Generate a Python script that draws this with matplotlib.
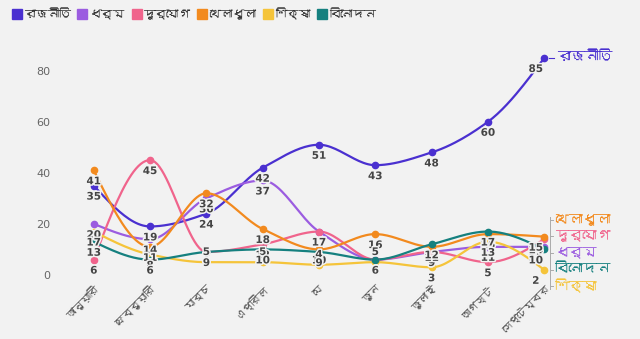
import numpy as np
import matplotlib
matplotlib.use('Agg')
import matplotlib.pyplot as plt
import matplotlib.patheffects as pe
from matplotlib import font_manager
from matplotlib.ft2font import FT2Font

# monthly counts per topic
months = ['জানুয়ারি', 'ফেব্রুয়ারি', 'মার্চ', 'এপ্রিল', 'মে', 'জুন', 'জুলাই', 'আগস্ট', 'সেপ্টেম্বর']
topic_names = ['রাজনীতি', 'ধর্ম', 'দুর্যোগ', 'খেলাধুলা', 'শিক্ষা', 'বিনোদন']
politics = [35, 19, 24, 42, 51, 43, 48, 60, 85]
religion = [20, 14, 30, 37, 17, 6, 9, 11, 11]
disaster = [6, 45, 9, 12, 17, 6, 9, 5, 14]
sports = [41, 11, 32, 18, 10, 16, 11, 16, 15]
education = [17, 8, 5, 5, 4, 5, 3, 13, 2]
entertainment = [13, 6, 9, 10, 9, 6, 12, 17, 10]

series = [politics, religion, disaster, sports, education, entertainment]
colors = ['#4a30d0', '#9b5ce0', '#f0648c', '#f28a1e', '#f5c43a', '#15807f']
BG = '#f2f2f2'

# (series index, month index) whose value label sits above the point
labels_above = {(4, 2), (4, 3), (4, 4), (4, 5)}


def find_bengali_font():
    # first installed family that has Bengali glyphs
    for entry in font_manager.fontManager.ttflist:
        try:
            if 0x09B0 in FT2Font(entry.fname).get_charmap():
                return entry.name
        except Exception:
            continue
    return None


bengali = find_bengali_font()
families = ([bengali] if bengali else []) + ['DejaVu Sans']
plt.rcParams['font.family'] = families


def monotone_curve(x, y, steps=24):
    # monotone cubic (Fritsch-Carlson style) through the points
    x = np.asarray(x, float)
    y = np.asarray(y, float)
    h = np.diff(x)
    d = np.diff(y) / h
    m = np.zeros_like(y)
    for k in range(1, len(y) - 1):
        if d[k - 1] * d[k] <= 0:
            m[k] = 0
        else:
            m[k] = 3 * (h[k - 1] + h[k]) / ((2 * h[k] + h[k - 1]) / d[k - 1] + (h[k] + 2 * h[k - 1]) / d[k])
    m[0] = (3 * d[0] - m[1]) / 2
    m[-1] = (3 * d[-1] - m[-2]) / 2
    xs, ys = [], []
    for k in range(len(h)):
        t = np.linspace(0, 1, steps, endpoint=False)
        h00 = 2 * t**3 - 3 * t**2 + 1
        h10 = t**3 - 2 * t**2 + t
        h01 = -2 * t**3 + 3 * t**2
        h11 = t**3 - t**2
        xs.append(x[k] + t * h[k])
        ys.append(h00 * y[k] + h10 * h[k] * m[k] + h01 * y[k + 1] + h11 * h[k] * m[k + 1])
    xs.append([x[-1]])
    ys.append([y[-1]])
    return np.concatenate(xs), np.concatenate(ys)


fig = plt.figure(figsize=(6.4, 3.39), dpi=100, facecolor=BG)
axis = fig.add_axes([60 / 640, 61 / 339, 500 / 640, 243 / 339], facecolor=BG)

x = np.arange(len(months))
for values, color in zip(series, colors):
    cx, cy = monotone_curve(x, values)
    axis.plot(cx, cy, color=color, linewidth=1.6, solid_capstyle='round', zorder=2)
    axis.plot(x, values, 'o', color=color, markersize=4.5, zorder=3)

# value labels under each point
halo = [pe.withStroke(linewidth=2.2, foreground=BG)]
last = len(months) - 1
for s, values in enumerate(series):
    for i, value in enumerate(values):
        ypos = value + 4.0 if (s, i) in labels_above else value - 4.3
        xpos = i - 0.15 if i == last else i
        axis.text(xpos, ypos, str(value), ha='center', va='center', fontsize=7.5,
                  fontweight='bold', color='#444444', family='DejaVu Sans',
                  path_effects=halo, zorder=4)

axis.set_xlim(-0.6, 8.28)
axis.set_ylim(-1.2, 94)
axis.set_yticks([0, 20, 40, 60, 80])
axis.set_yticklabels(['0', '20', '40', '60', '80'], family='DejaVu Sans')
axis.set_xticks(x)
axis.set_xticklabels(months, rotation=45, ha='right', rotation_mode='anchor',
                     fontsize=7.5, color='#555555')
axis.tick_params(axis='x', length=0, pad=4)
axis.tick_params(axis='y', length=0, pad=7, labelsize=8, labelcolor='#666666')
for spine in axis.spines.values():
    spine.set_visible(False)

# end-of-line topic labels
axis.plot([last + 0.08, last + 0.17], [politics[-1], politics[-1]], color=colors[0],
          linewidth=0.8, clip_on=False)
axis.text(last + 0.22, politics[-1] + 0.5, topic_names[0], color=colors[0], fontsize=10,
          va='center', ha='left', clip_on=False)

end_order = [3, 2, 1, 5, 4]
label_top = 21.6
gap = 6.5
label_y = [label_top - k * gap for k in range(len(end_order))]
axis.plot([last + 0.11, last + 0.11], [label_y[0] + 1, label_y[-1] - 1], color='#aaaaaa',
          linewidth=0.7, clip_on=False)
for k, s in enumerate(end_order):
    axis.plot([last + 0.11, last + 0.16], [label_y[k], label_y[k]], color='#aaaaaa',
              linewidth=0.7, clip_on=False)
    axis.text(last + 0.2, label_y[k], topic_names[s], color=colors[s], fontsize=10,
              fontweight='bold', va='center', ha='left', clip_on=False)

# legend across the top
handles = [plt.Line2D([], [], marker='s', linestyle='', markersize=7.5, color=c) for c in colors]
fig.legend(handles, topic_names, loc='upper left', bbox_to_anchor=(0.0, 1.01), ncol=6,
           frameon=False, fontsize=8.5, handletextpad=0.1, columnspacing=0.5,
           handlelength=1.0, labelcolor='#333333')

fig.savefig('out.png', dpi=100, facecolor=BG)
